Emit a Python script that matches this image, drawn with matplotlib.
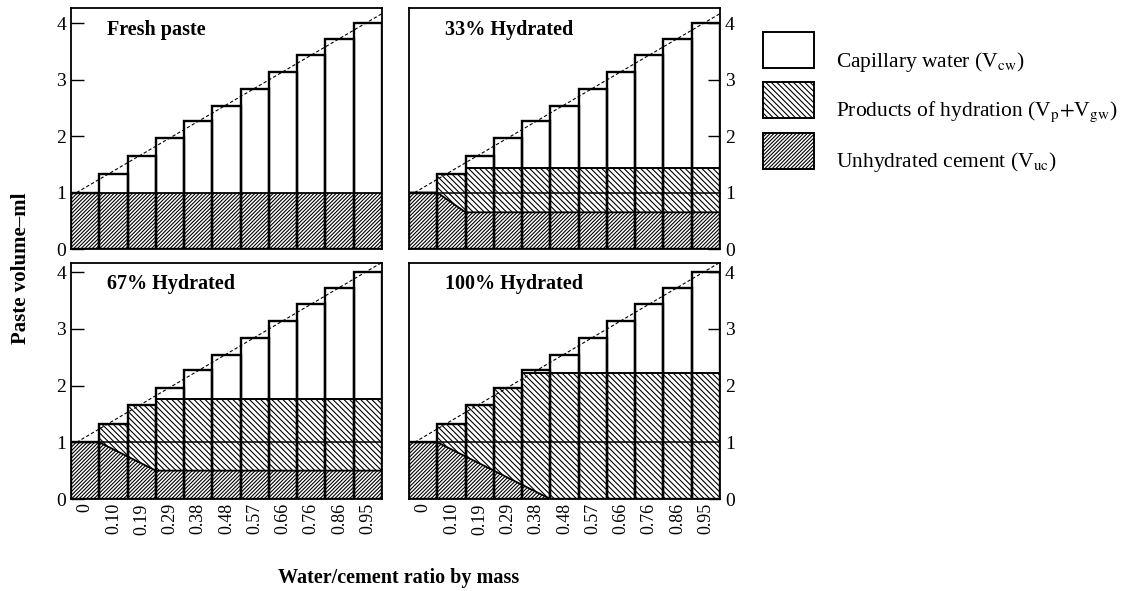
import numpy as np
import matplotlib
matplotlib.use("Agg")
import matplotlib.pyplot as plt
from matplotlib.patches import Rectangle

plt.rcParams['font.family'] = ['Liberation Serif', 'DejaVu Serif']
plt.rcParams['mathtext.fontset'] = 'stix'
plt.rcParams['hatch.linewidth'] = 0.8

# water/cement ratio by mass (one bar each)
wc_labels = ['0', '0.10', '0.19', '0.29', '0.38', '0.48', '0.57', '0.66', '0.76', '0.86', '0.95']
# total paste volume (ml) per bar
total_vol = [1.0, 1.33, 1.65, 1.96, 2.27, 2.53, 2.84, 3.14, 3.43, 3.72, 4.0]
# theoretical total-volume line (dashed), ends
line_x = [-0.3, 10.5]
line_y = [1.0, 4.17]

titles = ['Fresh paste', '33% Hydrated', '67% Hydrated', '100% Hydrated']
# unhydrated cement boundary (knots along the bar axis)
uc_x = [[-0.5, 10.5],
        [-0.5, 0.5, 1.5, 10.5],
        [-0.5, 0.5, 2.5, 10.5],
        [-0.5, 0.5, 4.5, 10.5]]
uc_y = [[1.0, 1.0],
        [1.0, 1.0, 0.65, 0.65],
        [1.0, 1.0, 0.5, 0.5],
        [1.0, 1.0, 0.0, 0.0]]
# upper limit of hydration products (ml); None = no hydration
prod_top = [None, 1.43, 1.77, 2.22]

legend_labels = [r'Capillary water (V$_{\mathrm{cw}}$)',
                 r'Products of hydration (V$_{\mathrm{p}}$$+$V$_{\mathrm{gw}}$)',
                 r'Unhydrated cement (V$_{\mathrm{uc}}$)']

x = np.arange(len(wc_labels))
tot = np.array(total_vol)

hatch_prod = '\\' * 6
hatch_uc = '/' * 9

fig = plt.figure(figsize=(11.28, 5.91), dpi=100)
W, H = 1128, 591
boxes = [(71, 8, 311, 241), (409, 8, 311, 241), (71, 263, 311, 236), (409, 263, 311, 236)]

for k, (l, t, w, h) in enumerate(boxes):
    ax = fig.add_axes([l / W, 1 - (t + h) / H, w / W, h / H])
    # capillary water = whole bar
    ax.bar(x, tot, width=1.0, color='white', edgecolor='black', linewidth=1.4, zorder=1)
    if prod_top[k] is not None:
        ph = np.minimum(tot, prod_top[k])
        ax.bar(x, ph, width=1.0, color='white', edgecolor='black', linewidth=0,
               hatch=hatch_prod, zorder=2)
    ax.fill_between(uc_x[k], 0, uc_y[k], facecolor='white', edgecolor='black',
                    linewidth=0, hatch=hatch_uc, zorder=3)
    ax.plot(uc_x[k], uc_y[k], color='black', lw=1.3, zorder=4)
    if prod_top[k] is not None:
        ax.hlines(1.0, -0.5, 10.5, color='black', lw=1.1, zorder=4)
        over = x[tot > prod_top[k]]
        ax.hlines(np.full(len(over), prod_top[k]), over - 0.5, over + 0.5,
                  color='black', lw=1.4, zorder=4)
    # bar outlines on top of the hatching
    ax.bar(x, tot, width=1.0, fill=False, edgecolor='black', linewidth=1.7, zorder=5)
    ax.plot(line_x, line_y, color='black', lw=0.8, ls=(0, (3, 2)), zorder=6)

    ax.set_xlim(-0.5, 10.5)
    ax.set_ylim(0, 4.27 if k < 2 else 4.16)
    ax.set_yticks([0, 1, 2, 3, 4])
    ax.set_xticks(x)
    if k >= 2:
        ax.set_xticklabels(wc_labels, rotation=90, fontsize=13)
    else:
        ax.set_xticklabels([])
    ax.tick_params(axis='x', length=0, pad=3)
    if k % 2 == 1:
        ax.yaxis.tick_right()
    ax.tick_params(axis='y', direction='in', length=9, width=1, labelsize=14)
    for s in ax.spines.values():
        s.set_linewidth(1.3)
    ax.text(0.115, 0.91, titles[k], transform=ax.transAxes, fontsize=14.5,
            fontweight='bold', va='center', ha='left', zorder=7)

fig.text(21 / W, 1 - 268 / H, 'Paste volume–ml', rotation=90, fontsize=15,
         fontweight='bold', ha='center', va='center')
fig.text(399 / W, 1 - 578 / H, 'Water/cement ratio by mass', fontsize=14.5,
         fontweight='bold', ha='center', va='center')

# legend drawn in pixel coordinates
lg = fig.add_axes([0, 0, 1, 1])
lg.set_xlim(0, W)
lg.set_ylim(H, 0)
lg.axis('off')
hatches = [None, hatch_prod, hatch_uc]
box_y = [32, 82, 133]
text_y = [62, 112, 162]
for hatch, by, ty, lab in zip(hatches, box_y, text_y, legend_labels):
    lg.add_patch(Rectangle((763, by), 51, 36, facecolor='white', edgecolor='black',
                           linewidth=1.4, hatch=hatch))
    lg.text(836, ty, lab, fontsize=15.5, va='center', ha='left')

fig.savefig('out.png', dpi=100)
